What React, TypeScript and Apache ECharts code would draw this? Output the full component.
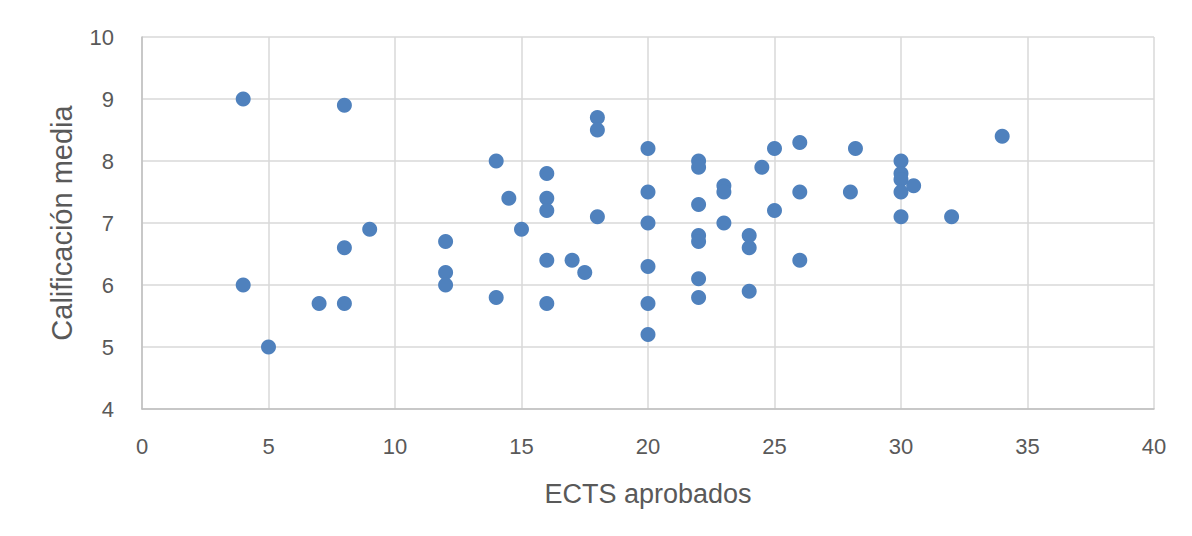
import React, { useEffect, useRef } from "react";
import * as echarts from "echarts";

const ectsAprobados: number[] = [
  4, 8, 14, 16, 14.5, 16, 16, 9, 15, 8,
  12, 12, 12, 4, 16, 7, 8, 14, 16, 5,
  18, 18, 20, 22, 22, 25, 26, 28.2, 24.5, 23,
  23, 20, 26, 28, 30, 30, 30, 30, 30.5, 30,
  32, 18, 22, 25, 20, 23, 22, 22, 24, 24,
  26, 17, 17.5, 20, 22, 22, 24, 20, 20, 34,
];
const calificacionMedia: number[] = [
  9, 8.9, 8, 7.8, 7.4, 7.4, 7.2, 6.9, 6.9, 6.6,
  6.7, 6.2, 6, 6, 6.4, 5.7, 5.7, 5.8, 5.7, 5,
  8.7, 8.5, 8.2, 8, 7.9, 8.2, 8.3, 8.2, 7.9, 7.6,
  7.5, 7.5, 7.5, 7.5, 8, 7.8, 7.7, 7.5, 7.6, 7.1,
  7.1, 7.1, 7.3, 7.2, 7, 7, 6.8, 6.7, 6.8, 6.6,
  6.4, 6.4, 6.2, 6.3, 6.1, 5.8, 5.9, 5.7, 5.2, 8.4,
];
const xAxisName = "ECTS aprobados";
const yAxisName = "Calificación media";

export default function App() {
  const ref = useRef<HTMLDivElement>(null);
  useEffect(() => {
    if (!ref.current) return;
    const chart = echarts.init(ref.current, undefined, { renderer: "svg" });
    const data = ectsAprobados.map((x, i) => [x, calificacionMedia[i]]);
    const font = "'Liberation Sans', Arial, sans-serif";
    chart.setOption({
      animation: false,
      backgroundColor: "#ffffff",
      grid: { left: 142, top: 37, right: 38, bottom: 127, containLabel: false },
      graphic: [
        {
          type: "line",
          shape: { x1: 7, y1: 6.5, x2: 1192, y2: 6.5 },
          style: { stroke: "#d9d9d9", lineWidth: 1 },
          silent: true,
        },
        {
          type: "line",
          shape: { x1: 7.5, y1: 6, x2: 7.5, y2: 536 },
          style: { stroke: "#d9d9d9", lineWidth: 1 },
          silent: true,
        },
      ],
      xAxis: {
        type: "value",
        min: 0,
        max: 40,
        interval: 5,
        name: xAxisName,
        nameLocation: "middle",
        nameGap: 71,
        nameTextStyle: { color: "#595959", fontSize: 27, fontFamily: font },
        axisLine: { show: true, lineStyle: { color: "#bfbfbf", width: 1.5 } },
        axisTick: { show: false },
        axisLabel: { color: "#595959", fontSize: 22, fontFamily: font, margin: 26 },
        splitLine: { show: true, lineStyle: { color: "#d9d9d9", width: 1.5 } },
      },
      yAxis: {
        type: "value",
        min: 4,
        max: 10,
        interval: 1,
        name: yAxisName,
        nameLocation: "middle",
        nameGap: 66,
        nameTextStyle: { color: "#595959", fontSize: 29, fontFamily: font },
        axisLine: { show: true, lineStyle: { color: "#bfbfbf", width: 1.5 } },
        axisTick: { show: false },
        axisLabel: { color: "#595959", fontSize: 22, fontFamily: font, margin: 28 },
        splitLine: { show: true, lineStyle: { color: "#d9d9d9", width: 1.5 } },
      },
      series: [
        {
          type: "scatter",
          data,
          symbol: "circle",
          symbolSize: 15,
          itemStyle: { color: "#4f81bd", opacity: 1 },
        },
      ],
    });
    return () => chart.dispose();
  }, []);
  return <div ref={ref} style={{ width: 1192, height: 536, margin: -8 }} />;
}
